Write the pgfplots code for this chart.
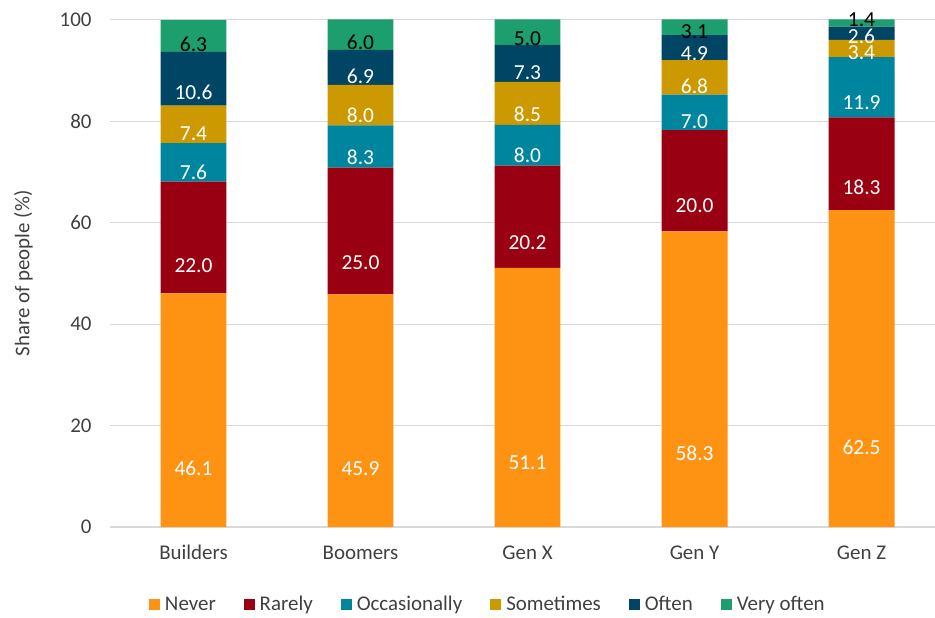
\documentclass[border=0pt]{standalone}
\usepackage{fontspec}
\setmainfont{Carlito}
\usepackage{pgfplots}
\pgfplotsset{compat=1.18}
\usepackage{pgfplotstable}
\definecolor{cNever}{HTML}{FE9212}
\definecolor{cRarely}{HTML}{990012}
\definecolor{cOcc}{HTML}{00859E}
\definecolor{cSome}{HTML}{CC9900}
\definecolor{cOften}{HTML}{004564}
\definecolor{cVery}{HTML}{1D9E6E}
\definecolor{gridgrey}{HTML}{D9D9D9}
\definecolor{txt}{HTML}{404040}
\pgfplotstableread{
x never rarely occ some often very
0 46.1 22.0 7.6 7.4 10.6 6.3
1 45.9 25.0 8.3 8.0 6.9 6.0
2 51.1 20.2 8.0 8.5 7.3 5.0
3 58.3 20.0 7.0 6.8 4.9 3.1
4 62.5 18.3 11.9 3.4 2.6 1.4
}\datatable
\begin{document}
\begin{tikzpicture}
\begin{axis}[
  scale only axis, width=825bp, height=507bp,
  ybar stacked, bar width=0.395,
  xmin=-0.5, xmax=4.44, ymin=0, ymax=100,
  clip=false,
  xtick={0,1,2,3,4},
  xticklabels={Builders,Boomers,Gen X,Gen Y,Gen Z},
  ytick={0,20,40,60,80,100},
  axis x line*=bottom, axis y line*=left,
  y axis line style={draw=none},
  x axis line style={draw=gridgrey, line width=1.2bp, -},
  major tick length=0pt,
  ymajorgrids, grid style={draw=gridgrey, line width=1bp},
  tick label style={font=\fontsize{21}{25}\selectfont, text=txt},
  /pgf/number format/assume math mode=true,
  yticklabel style={xshift=-15bp},
  xticklabel style={yshift=-22bp, text height=1.55ex, text depth=0.3ex},
  ylabel={Share of people (\%)},
  ylabel style={font=\fontsize{21}{25}\selectfont, text=txt, at={(axis description cs:-0.105,0.5)}, anchor=center},
  legend style={at={(axis description cs:0.458,-0.152)}, anchor=center, draw=none, fill=none,
    font=\fontsize{21}{25}\selectfont, text=txt,
    /tikz/every odd column/.append style={column sep=3bp},
    /tikz/every even column/.append style={column sep=26bp}},
  legend cell align=left,
  legend columns=6,
  legend image code/.code={\fill[#1] (0bp,-5.5bp) rectangle (11bp,5.5bp);},
  point meta=rawy,
  visualization depends on=rawy\as\rawy,
  nodes near coords={\pgfmathprintnumber[fixed,fixed zerofill,precision=1]{\pgfplotspointmeta}},
  every node near coord/.append style={anchor=center, font=\fontsize{21.5}{25}\selectfont, text=white,
    yshift={(-\rawy*1.2675+(\rawy<2)*5)*1bp}},
]
\addplot[fill=cNever, draw=none] table[x=x,y=never]{\datatable};
\addlegendentry{Never}
\addplot[fill=cRarely, draw=none] table[x=x,y=rarely]{\datatable};
\addlegendentry{Rarely}
\addplot[fill=cOcc, draw=none] table[x=x,y=occ]{\datatable};
\addlegendentry{Occasionally}
\addplot[fill=cSome, draw=none] table[x=x,y=some]{\datatable};
\addlegendentry{Sometimes}
\addplot[fill=cOften, draw=none] table[x=x,y=often]{\datatable};
\addlegendentry{Often}
\addplot[fill=cVery, draw=none, every node near coord/.append style={text=black}] table[x=x,y=very]{\datatable};
\addlegendentry{Very often}
\coordinate (bl) at (rel axis cs:0,0);
\coordinate (tr) at (rel axis cs:1,1);
\end{axis}
\pgfresetboundingbox
\path[use as bounding box] ([xshift=-110bp,yshift=-91bp]bl) rectangle ([yshift=20bp]tr);
\end{tikzpicture}
\end{document}
